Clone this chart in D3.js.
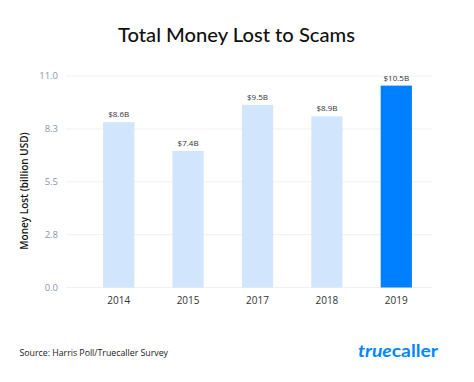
<!DOCTYPE html>
<meta charset="utf-8">
<body style="margin:0;background:#fff">
<style>
  text { font-family: "Open Sans", sans-serif; }
  .grid line { stroke: #eef0f3; stroke-width: 1px; }
</style>
<script src="https://d3js.org/d3.v7.min.js"></script>
<script>
  var years = ["2014", "2015", "2017", "2018", "2019"];
  var losses = [8.6, 7.1, 9.5, 8.9, 10.5];
  var labels = ["$8.6B", "$7.4B", "$9.5B", "$8.9B", "$10.5B"];
  var yTicks = [0, 2.75, 5.5, 8.25, 11];

  var width = 474, height = 382;

  var svg = d3.select("body").append("svg")
    .attr("width", width)
    .attr("height", height);

  var x = d3.scaleBand().domain(years).range([84, 431]).paddingInner(0.55).paddingOuter(0.275);
  var y = d3.scaleLinear().domain([0, 11]).range([287.5, 76]);

  // grid lines
  svg.append("g").attr("class", "grid")
    .selectAll("line")
    .data(yTicks)
    .enter().append("line")
    .attr("x1", 66).attr("x2", 432)
    .attr("y1", function(d) { return y(d); })
    .attr("y2", function(d) { return y(d); });

  // y tick labels
  svg.append("g")
    .selectAll("text")
    .data(yTicks)
    .enter().append("text")
    .attr("x", 58)
    .attr("y", function(d) { return y(d); })
    .attr("dy", "0.35em")
    .attr("text-anchor", "end")
    .attr("font-size", 9.5)
    .attr("fill", "#8797ab")
    .text(function(d) { return d3.format(".1f")(d); });

  var bars = svg.append("g");
  bars.selectAll("rect")
    .data(losses)
    .enter().append("rect")
    .attr("x", function(d, i) { return x(years[i]); })
    .attr("width", x.bandwidth())
    .attr("y", function(d) { return y(d); })
    .attr("height", function(d) { return y(0) - y(d); })
    .attr("fill", function(d, i) { return i == years.length - 1 ? "#0080ff" : "#d1e5fd"; });

  bars.selectAll("text")
    .data(losses)
    .enter().append("text")
    .attr("x", function(d, i) { return x(years[i]) + x.bandwidth() / 2; })
    .attr("y", function(d) { return y(d) - 5; })
    .attr("text-anchor", "middle")
    .attr("font-size", 8)
    .attr("fill", "#333")
    .text(function(d, i) { return labels[i]; });

  // x labels
  svg.append("g")
    .selectAll("text")
    .data(years)
    .enter().append("text")
    .attr("x", function(d) { return x(d) + x.bandwidth() / 2; })
    .attr("y", 304)
    .attr("text-anchor", "middle")
    .attr("font-size", 10)
    .attr("fill", "#333")
    .text(function(d) { return d; });

  // y axis title
  svg.append("text")
    .attr("transform", "translate(28,191) rotate(-90)")
    .attr("text-anchor", "middle")
    .attr("font-size", 10)
    .attr("font-weight", 600)
    .attr("fill", "#111")
    .text("Money Lost (billion USD)");

  // title
  svg.append("text")
    .attr("x", 118)
    .attr("y", 41.5)
    .attr("textLength", 237)
    .attr("lengthAdjust", "spacingAndGlyphs")
    .attr("font-size", 18.5)
    .attr("font-weight", 500)
    .attr("fill", "#111")
    .style("font-family", "Lato, sans-serif")
    .text("Total Money Lost to Scams");

  // source
  svg.append("text")
    .attr("x", 19.5)
    .attr("y", 356)
    .attr("textLength", 148.5)
    .attr("font-size", 8.8)
    .attr("fill", "#222")
    .text("Source: Harris Poll/Truecaller Survey");

  // logo
  var logo = svg.append("text")
    .attr("x", 358)
    .attr("y", 356.5)
    .attr("textLength", 80)
    .attr("lengthAdjust", "spacingAndGlyphs")
    .attr("font-size", 17.5)
    .attr("font-weight", 700)
    .attr("fill", "#0087ff")
    .style("font-family", "Lato, sans-serif");
  logo.append("tspan").attr("font-style", "italic").text("true");
  logo.append("tspan").text("caller");
</script>
</body>
